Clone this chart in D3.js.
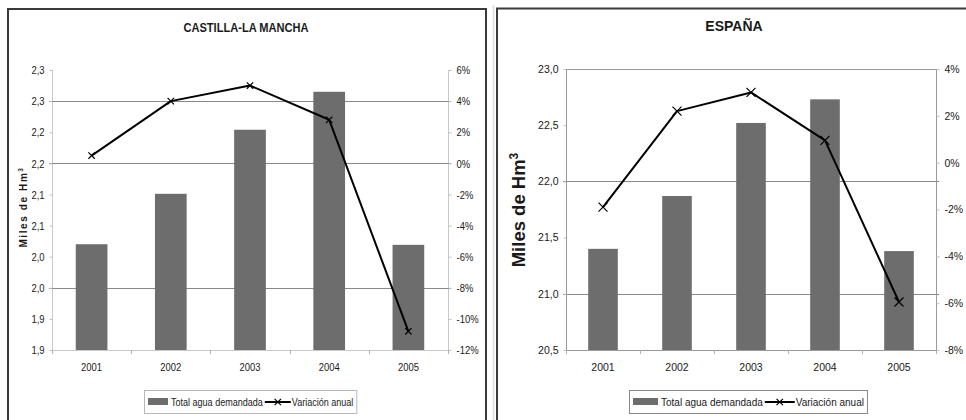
<!DOCTYPE html>
<html>
<head>
<meta charset="utf-8">
<script src="https://cdn.jsdelivr.net/npm/d3@7/dist/d3.min.js"></script>
<style>
  html, body { margin: 0; padding: 0; background: #fff; }
  svg { display: block; }
</style>
</head>
<body>
<svg id="chart" width="966" height="420"></svg>
<script>
// ---------------- DATA ----------------
const years = ["2001", "2002", "2003", "2004", "2005"];

const clmTitle = "CASTILLA-LA MANCHA";
const clmDemand = [2.020, 2.101, 2.204, 2.265, 2.019];       // miles de Hm3
const clmVariation = [0.5, 4.0, 5.0, 2.8, -10.8];            // %
const clmLeftTicks = [1.85, 1.90, 1.95, 2.00, 2.05, 2.10, 2.15, 2.20, 2.25, 2.30];
const clmLeftTickLabels = ["1,9", "1,9", "2,0", "2,0", "2,1", "2,1", "2,2", "2,2", "2,3", "2,3"];
const clmGridlines = [1.95, 2.15, 2.25];
const clmRightTicks = [-12, -10, -8, -6, -4, -2, 0, 2, 4, 6];

const espTitle = "ESPAÑA";
const espDemand = [21.40, 21.87, 22.52, 22.73, 21.38];
const espVariation = [-1.9, 2.2, 3.0, 0.95, -5.95];
const espLeftTicks = [20.5, 21.0, 21.5, 22.0, 22.5, 23.0];
const espLeftTickLabels = ["20,5", "21,0", "21,5", "22,0", "22,5", "23,0"];
const espGridlines = [21.0, 22.0];
const espRightTicks = [-8, -6, -4, -2, 0, 2, 4];

const axisTitle = "Miles de Hm";
const axisTitleSup = "3";
const legendLabels = ["Total agua demandada", "Variación anual"];

// ---------------- DRAW ----------------
const svg = d3.select("#chart");
const BAR = "#6d6d6d";
const TEXT = "#1a1a1a";

// panel frames
svg.append("path").attr("d", "M8,421 V9 H486 V421")
  .attr("fill", "none").attr("stroke", "#3a3a3a").attr("stroke-width", 2);
svg.append("line").attr("x1", 493.5).attr("x2", 493.5).attr("y1", 5).attr("y2", 420)
  .attr("stroke", "#dcdcdc").attr("stroke-width", 1.5);
svg.append("path").attr("d", "M497,421 V8.5 H967")
  .attr("fill", "none").attr("stroke", "#3a3a3a").attr("stroke-width", 2);

function crossPath(cx, cy, r) {
  return `M${cx - r},${cy - r}L${cx + r},${cy + r}M${cx - r},${cy + r}L${cx + r},${cy - r}`;
}

// condense text horizontally (emulates a narrow typeface); returns final width
function condense(sel, k) {
  let w = 0;
  sel.each(function () {
    const L = this.getComputedTextLength();
    w = L * k;
    if (k !== 1) d3.select(this).attr("textLength", L * k).attr("lengthAdjust", "spacingAndGlyphs");
  });
  return w;
}

function drawPanel(cfg) {
  const g = svg.append("g");
  const x = d3.scaleBand().domain(years).range([cfg.left, cfg.right])
    .paddingInner(0.6).paddingOuter(0.3);
  const yL = d3.scaleLinear().domain(d3.extent(cfg.leftTicks)).range([cfg.bottom, cfg.top]);
  const yR = d3.scaleLinear().domain(d3.extent(cfg.rightTicks)).range([cfg.bottom, cfg.top]);
  const step = x.step();

  // plot frame / axis lines
  if (cfg.boxed) {
    g.append("rect").attr("x", cfg.left + 0.5).attr("y", cfg.top + 0.5)
      .attr("width", cfg.right - cfg.left).attr("height", cfg.bottom - cfg.top)
      .attr("fill", "none").attr("stroke", "#9a9a9a");
  } else {
    g.append("line").attr("x1", cfg.left + 0.5).attr("x2", cfg.left + 0.5)
      .attr("y1", cfg.top).attr("y2", cfg.bottom).attr("stroke", "#c8c8c8");
    g.append("line").attr("x1", cfg.right + 0.5).attr("x2", cfg.right + 0.5)
      .attr("y1", cfg.top).attr("y2", cfg.bottom).attr("stroke", "#c8c8c8");
    g.append("line").attr("x1", cfg.left).attr("x2", cfg.right)
      .attr("y1", cfg.bottom + 0.5).attr("y2", cfg.bottom + 0.5).attr("stroke", "#c8c8c8");
  }

  // gridlines
  g.selectAll(".grid").data(cfg.gridlines).enter().append("line")
    .attr("x1", cfg.left - 3).attr("x2", cfg.right + 3)
    .attr("y1", d => Math.round(yL(d)) + 0.5).attr("y2", d => Math.round(yL(d)) + 0.5)
    .attr("stroke", "#8a8a8a");

  // left axis
  const axL = d3.axisLeft(yL).tickValues(cfg.leftTicks)
    .tickFormat((d, i) => cfg.leftTickLabels[i]).tickSize(3).tickPadding(5);
  const gL = g.append("g").attr("transform", `translate(${cfg.left + 0.5},0)`).call(axL);
  // right axis
  const axR = d3.axisRight(yR).tickValues(cfg.rightTicks)
    .tickFormat(d => d + "%").tickSize(3).tickPadding(5);
  const gR = g.append("g").attr("transform", `translate(${cfg.right + 0.5},0)`).call(axR);
  [gL, gR].forEach(a => {
    a.select(".domain").remove();
    a.selectAll(".tick line").attr("stroke", "#c0c0c0");
    a.selectAll("text").attr("fill", TEXT)
      .style("font-family", cfg.font).style("font-size", cfg.tickSize + "px");
    a.selectAll("text").each(function () { condense(d3.select(this), cfg.narrow); });
  });

  // bottom axis: category labels and separators
  const sep = d3.range(years.length + 1).map(i => cfg.left + i * step);
  g.selectAll(".sep").data(sep).enter().append("line")
    .attr("x1", d => Math.round(d) + 0.5).attr("x2", d => Math.round(d) + 0.5)
    .attr("y1", cfg.bottom).attr("y2", cfg.bottom + 4).attr("stroke", "#b0b0b0");
  const yrs = g.selectAll(".year").data(years).enter().append("text")
    .attr("x", d => x(d) + x.bandwidth() / 2).attr("y", cfg.bottom + 21)
    .attr("text-anchor", "middle").attr("fill", TEXT)
    .style("font-family", cfg.font).style("font-size", cfg.tickSize + "px")
    .text(d => d);
  yrs.each(function () { condense(d3.select(this), cfg.narrow); });

  // bars
  g.selectAll(".bar").data(cfg.demand).enter().append("rect")
    .attr("x", (d, i) => x(years[i])).attr("width", x.bandwidth())
    .attr("y", d => yL(d)).attr("height", d => cfg.bottom - yL(d))
    .attr("fill", BAR);

  // variation line
  const line = d3.line().x((d, i) => x(years[i]) + x.bandwidth() / 2).y(d => yR(d));
  g.append("path").datum(cfg.variation).attr("d", line)
    .attr("fill", "none").attr("stroke", "#000").attr("stroke-width", 2)
    .attr("stroke-linejoin", "round");
  g.selectAll(".mk").data(cfg.variation).enter().append("path")
    .attr("d", (d, i) => crossPath(x(years[i]) + x.bandwidth() / 2, yR(d), cfg.markR))
    .attr("stroke", "#000").attr("stroke-width", 1.2).attr("fill", "none");

  // title
  const tt = g.append("text").attr("x", cfg.titleX).attr("y", cfg.titleY)
    .attr("text-anchor", "middle").attr("fill", TEXT)
    .style("font-family", cfg.font).style("font-weight", "bold")
    .style("font-size", cfg.titleSize + "px").text(cfg.title);
  condense(tt, cfg.narrow);

  // axis title
  const at = g.append("text")
    .attr("transform", `translate(${cfg.axTitleX},${cfg.axTitleY}) rotate(-90)`)
    .attr("text-anchor", "middle").attr("fill", TEXT)
    .style("font-family", cfg.font).style("font-weight", "bold")
    .style("font-size", cfg.axTitleSize + "px")
    .style("letter-spacing", cfg.axLetterSpacing + "px");
  at.append("tspan").text(axisTitle);
  at.append("tspan").attr("dy", -cfg.axTitleSize * 0.4)
    .style("font-size", (cfg.axTitleSize * 0.65) + "px").text(axisTitleSup);

  // legend
  const lg = g.append("g");
  const ly = cfg.legendY;
  let cx = cfg.legendX + 4;
  lg.append("rect").attr("x", cx).attr("y", ly + 8).attr("width", cfg.swatchW).attr("height", 7)
    .attr("fill", BAR);
  cx += cfg.swatchW + 3;
  const t1 = lg.append("text").attr("x", cx).attr("y", ly + 16).attr("fill", TEXT)
    .style("font-family", cfg.font).style("font-size", cfg.legendSize + "px").text(legendLabels[0]);
  cx += condense(t1, cfg.narrow) + 2;
  lg.append("line").attr("x1", cx).attr("x2", cx + cfg.symW).attr("y1", ly + 12).attr("y2", ly + 12)
    .attr("stroke", "#000").attr("stroke-width", 2);
  lg.append("path").attr("d", crossPath(cx + cfg.symW / 2, ly + 12, 3.2))
    .attr("stroke", "#000").attr("stroke-width", 1.2);
  cx += cfg.symW + 1;
  const t2 = lg.append("text").attr("x", cx).attr("y", ly + 16).attr("fill", TEXT)
    .style("font-family", cfg.font).style("font-size", cfg.legendSize + "px").text(legendLabels[1]);
  cx += condense(t2, cfg.narrow) + 3;
  lg.insert("rect", ":first-child").attr("x", cfg.legendX + 0.5).attr("y", ly + 0.5)
    .attr("width", cx - cfg.legendX).attr("height", 23)
    .attr("fill", "#fff").attr("stroke", cfg.legendStroke);
}

drawPanel({
  left: 52, right: 448, top: 70, bottom: 350, boxed: false,
  demand: clmDemand, variation: clmVariation,
  leftTicks: clmLeftTicks, leftTickLabels: clmLeftTickLabels,
  rightTicks: clmRightTicks, gridlines: clmGridlines,
  font: "'Liberation Sans', Arial, sans-serif", narrow: 0.82,
  tickSize: 11.5, title: clmTitle, titleX: 246, titleY: 32, titleSize: 13.5,
  axTitleX: 27, axTitleY: 207, axTitleSize: 10, axLetterSpacing: 1.6,
  markR: 3.2, legendX: 144, legendY: 390, swatchW: 20, symW: 26, legendSize: 11,
  legendStroke: "#b8b8b8"
});

drawPanel({
  left: 566, right: 936, top: 69, bottom: 350, boxed: true,
  demand: espDemand, variation: espVariation,
  leftTicks: espLeftTicks, leftTickLabels: espLeftTickLabels,
  rightTicks: espRightTicks, gridlines: espGridlines,
  font: "'Liberation Sans', Arial, sans-serif", narrow: 1,
  tickSize: 10.5, title: espTitle, titleX: 734, titleY: 31, titleSize: 14,
  axTitleX: 525, axTitleY: 210, axTitleSize: 18.5, axLetterSpacing: 0,
  markR: 4.5, legendX: 629, legendY: 390, swatchW: 25, symW: 30, legendSize: 10,
  legendStroke: "#888"
});
</script>
</body>
</html>
